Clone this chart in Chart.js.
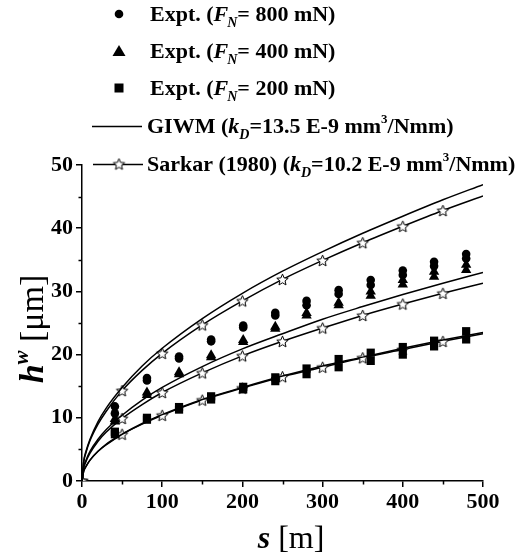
<!DOCTYPE html>
<html>
<head>
<meta charset="utf-8">
<script src="https://cdn.jsdelivr.net/npm/chart.js@4.4.0/dist/chart.umd.min.js"></script>
<style>
  html, body { margin: 0; padding: 0; background: #fff; }
  #wrap { width: 517px; height: 558px; position: relative; }
</style>
</head>
<body>
<div id="wrap"><canvas id="wearChart" width="517" height="558"></canvas></div>
<script>
var curveS = [0, 2, 5, 10, 20, 30, 50, 75, 100, 150, 200, 250, 300, 350, 400, 450, 500];
// GIWM model (kD = 13.5 E-9), one curve per normal load
var giwm800 = [0, 3.0, 4.7, 6.6, 9.4, 11.5, 14.8, 18.2, 21.0, 25.7, 29.7, 33.2, 36.3, 39.2, 41.9, 44.5, 46.9];
var giwm400 = [0, 2.1, 3.3, 4.7, 6.6, 8.1, 10.4, 12.8, 14.8, 18.1, 20.9, 23.3, 25.6, 27.6, 29.5, 31.3, 33.0];
var giwm200 = [0, 1.5, 2.3, 3.3, 4.7, 5.8, 7.4, 9.1, 10.5, 12.9, 14.8, 16.6, 18.2, 19.6, 21.0, 22.3, 23.5];
// Sarkar (1980) model (kD = 10.2 E-9)
var sarkar800 = [0, 2.9, 4.5, 6.4, 9.0, 11.0, 14.3, 17.5, 20.2, 24.7, 28.5, 31.9, 34.9, 37.7, 40.3, 42.8, 45.1];
var sarkar400 = [0, 2.0, 3.1, 4.4, 6.3, 7.7, 9.9, 12.1, 14.0, 17.1, 19.8, 22.1, 24.2, 26.2, 28.0, 29.7, 31.3];
var sarkar200 = [0, 1.5, 2.3, 3.3, 4.7, 5.7, 7.4, 9.0, 10.4, 12.8, 14.7, 16.5, 18.0, 19.5, 20.8, 22.1, 23.3];
// distances where the Sarkar curve carries a star marker
var starS = [0, 50, 100, 150, 200, 250, 300, 350, 400, 450];

// experiments: two repeats per distance
var exptS = [41, 81, 121, 161, 201, 241, 280, 320, 360, 400, 439, 479];
var h800a = [11.8, 16.3, 19.7, 22.4, 24.6, 26.6, 28.5, 30.2, 31.8, 33.3, 34.7, 35.9];
var h800b = [10.7, 15.9, 19.4, 22.1, 24.3, 26.2, 27.8, 29.6, 31.0, 32.6, 34.0, 35.2];
var h400a = [9.8, 14.0, 17.2, 19.9, 22.3, 24.4, 26.6, 28.2, 30.0, 31.8, 33.1, 34.2];
var h400b = [9.4, 13.6, 16.9, 19.6, 22.0, 24.1, 26.2, 27.8, 29.3, 31.1, 32.3, 33.4];
var h200a = [7.8, 10.0, 11.7, 13.4, 14.9, 16.4, 17.8, 19.3, 20.3, 21.2, 22.2, 23.7];
var h200b = [7.4, 9.7, 11.3, 12.9, 14.5, 15.8, 16.9, 18.0, 19.0, 20.0, 21.3, 22.4];

var yTicksMinor = [5, 15, 25, 35, 45];
var xTicksMinor = [50, 150, 250, 350, 450];

var SERIF = '"Liberation Serif", "Times New Roman", serif';

function pts(xs, ys) {
    return xs.map(function (x, i) { return { x: x, y: ys[i] }; });
}

function makeStar(r) {
    var c = document.createElement('canvas');
    var size = Math.ceil(r * 2 + 3);
    c.width = size;
    c.height = size;
    var g = c.getContext('2d');
    g.beginPath();
    for (var i = 0; i < 10; i++) {
        var rr = i % 2 === 0 ? r : r * 0.45;
        var a = -Math.PI / 2 + i * Math.PI / 5;
        var px = size / 2 + rr * Math.cos(a);
        var py = size / 2 + 0.6 + rr * Math.sin(a);
        if (i === 0) g.moveTo(px, py); else g.lineTo(px, py);
    }
    g.closePath();
    g.fillStyle = '#fff';
    g.fill();
    g.lineWidth = 1;
    g.strokeStyle = '#000';
    g.stroke();
    return c;
}
var starImg = makeStar(6);

function starRadius(c) {
    return c.raw && starS.indexOf(c.raw.x) >= 0 ? 5 : 0;
}

function curve(data, withStars) {
    return {
        data: data,
        showLine: true,
        borderColor: '#000',
        borderWidth: 1.5,
        cubicInterpolationMode: 'monotone',
        pointStyle: withStars ? starImg : 'circle',
        pointRadius: withStars ? starRadius : 0,
        pointHoverRadius: 0
    };
}

function expt(xs, a, b, style, r) {
    return {
        data: pts(xs, a).concat(pts(xs, b)),
        showLine: false,
        pointStyle: style,
        pointRadius: r,
        pointBackgroundColor: '#000',
        pointBorderColor: '#000',
        pointBorderWidth: 0
    };
}

// draws a row of text pieces with different fonts / offsets
function runsWidth(ctx, runs) {
    var w = 0;
    runs.forEach(function (r) { ctx.font = r.f; w += ctx.measureText(r.t).width + (r.dx || 0); });
    return w;
}
function drawRuns(ctx, x, y, runs) {
    var cx = x;
    runs.forEach(function (r) {
        ctx.font = r.f;
        cx += r.dx || 0;
        ctx.fillText(r.t, cx, y + (r.dy || 0));
        cx += ctx.measureText(r.t).width;
    });
}

var B = 'bold 22px ' + SERIF;
var BI = 'italic bold 22px ' + SERIF;
var SUB = 'italic bold 14px ' + SERIF;
var SUP = 'bold 13px ' + SERIF;

function exptRuns(load) {
    return [
        { t: 'Expt. (', f: B },
        { t: 'F', f: BI },
        { t: 'N', f: SUB, dy: 6, dx: -1 },
        { t: '= ' + load + ' mN)', f: B }
    ];
}
function kRuns(name, kd) {
    return [
        { t: name + ' (', f: B },
        { t: 'k', f: BI },
        { t: 'D', f: SUB, dy: 6 },
        { t: '=' + kd + ' E-9 mm', f: B },
        { t: '3', f: SUP, dy: -10 },
        { t: '/Nmm)', f: B }
    ];
}

var decorPlugin = {
    id: 'decor',
    afterDraw: function (chart) {
        var ctx = chart.ctx;
        var xs = chart.scales.x, ys = chart.scales.y;
        var area = chart.chartArea;
        ctx.save();
        ctx.strokeStyle = '#000';
        ctx.lineWidth = 1.5;
        // minor ticks
        ctx.beginPath();
        yTicksMinor.forEach(function (v) {
            var py = Math.round(ys.getPixelForValue(v)) + 0.5;
            ctx.moveTo(area.left - 3.5, py);
            ctx.lineTo(area.left, py);
        });
        xTicksMinor.forEach(function (v) {
            var px = Math.round(xs.getPixelForValue(v)) + 0.5;
            ctx.moveTo(px, area.bottom);
            ctx.lineTo(px, area.bottom + 3.5);
        });
        ctx.stroke();

        // legend
        ctx.fillStyle = '#000';
        ctx.textBaseline = 'alphabetic';
        ctx.textAlign = 'left';
        var rows = [14, 51, 88, 126, 164];
        var symX = 119;
        // circle
        ctx.beginPath();
        ctx.arc(symX, rows[0], 4.3, 0, Math.PI * 2);
        ctx.fill();
        // triangle
        ctx.beginPath();
        ctx.moveTo(symX, rows[1] - 6);
        ctx.lineTo(symX + 6.5, rows[1] + 5);
        ctx.lineTo(symX - 6.5, rows[1] + 5);
        ctx.closePath();
        ctx.fill();
        // square
        ctx.fillRect(symX - 4.5, rows[2] - 4.5, 9, 9);
        // lines
        ctx.lineWidth = 1.3;
        ctx.beginPath();
        ctx.moveTo(92, rows[3] + 0.5);
        ctx.lineTo(142, rows[3] + 0.5);
        ctx.moveTo(93, rows[4] + 0.5);
        ctx.lineTo(143, rows[4] + 0.5);
        ctx.stroke();
        ctx.drawImage(starImg, symX - starImg.width / 2, rows[4] - starImg.height / 2);

        drawRuns(ctx, 150, rows[0] + 7, exptRuns(800));
        drawRuns(ctx, 150, rows[1] + 7, exptRuns(400));
        drawRuns(ctx, 150, rows[2] + 7, exptRuns(200));
        drawRuns(ctx, 147, rows[3] + 7, kRuns('GIWM', '13.5'));
        drawRuns(ctx, 147, rows[4] + 7, kRuns('Sarkar (1980)', '10.2'));

        // axis titles
        var xt = [
            { t: 's', f: 'italic bold 32px ' + SERIF },
            { t: ' [m]', f: '32px ' + SERIF }
        ];
        var w = runsWidth(ctx, xt);
        drawRuns(ctx, 291 - w / 2, 548, xt);

        var yt = [
            { t: 'h', f: 'italic bold 34px ' + SERIF },
            { t: 'w', f: 'italic bold 21px ' + SERIF, dy: -15 },
            { t: ' [\u03bcm]', f: '34px ' + SERIF }
        ];
        ctx.translate(43, 329);
        ctx.rotate(-Math.PI / 2);
        w = runsWidth(ctx, yt);
        drawRuns(ctx, -w / 2, 0, yt);
        ctx.restore();
    }
};

var chart = new Chart(document.getElementById('wearChart'), {
    type: 'scatter',
    data: {
        datasets: [
            curve(pts(curveS, giwm800), false),
            curve(pts(curveS, giwm400), false),
            curve(pts(curveS, giwm200), false),
            expt(exptS, h800a, h800b, 'circle', 4.3),
            expt(exptS, h400a, h400b, 'triangle', 6),
            expt(exptS, h200a, h200b, 'rect', 5.8),
            curve(pts(curveS, sarkar800), true),
            curve(pts(curveS, sarkar400), true),
            curve(pts(curveS, sarkar200), true)
        ]
    },
    options: {
        responsive: false,
        animation: false,
        devicePixelRatio: 1,
        layout: { padding: { left: 0, top: 165, right: 34, bottom: 0 } },
        plugins: {
            legend: { display: false },
            tooltip: { enabled: false }
        },
        scales: {
            x: {
                type: 'linear',
                min: 0,
                max: 500,
                afterFit: function (s) { s.height = 77; },
                border: { display: true, color: '#000', width: 1.5 },
                grid: { drawOnChartArea: false, drawTicks: true, tickLength: 6, color: '#000', lineWidth: 1.5 },
                ticks: { stepSize: 100, color: '#000', padding: 2, maxRotation: 0, font: { family: SERIF, size: 22, weight: 'bold' } }
            },
            y: {
                type: 'linear',
                min: 0,
                max: 50,
                afterFit: function (s) { s.width = 82; },
                border: { display: true, color: '#000', width: 1.5 },
                grid: { drawOnChartArea: false, drawTicks: true, tickLength: 6, color: '#000', lineWidth: 1.5 },
                ticks: { stepSize: 10, color: '#000', padding: 3, font: { family: SERIF, size: 22, weight: 'bold' } }
            }
        }
    },
    plugins: [decorPlugin]
});
</script>
</body>
</html>
